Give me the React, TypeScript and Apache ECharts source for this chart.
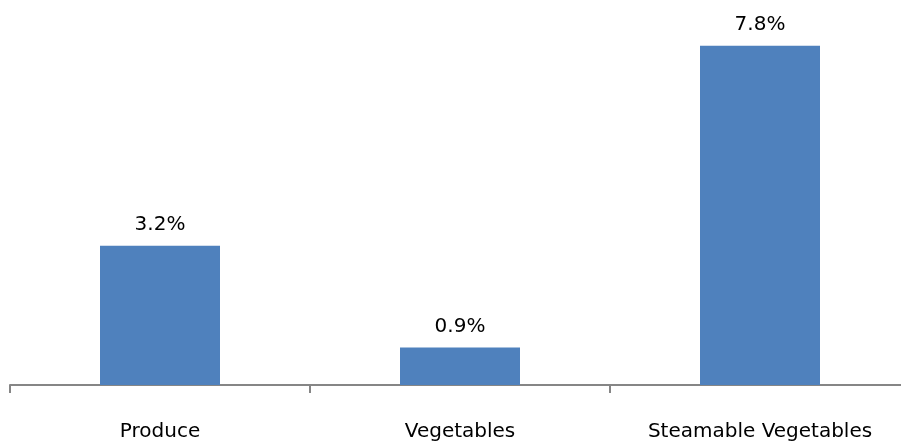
import React, { useEffect, useRef } from "react";
import * as echarts from "echarts";

const categories = ["Produce", "Vegetables", "Steamable Vegetables"];
const values = [3.2, 0.86, 7.8];

export default function App() {
  const ref = useRef<HTMLDivElement>(null);
  useEffect(() => {
    if (!ref.current) return;
    const chart = echarts.init(ref.current, null, { renderer: "svg" });
    chart.setOption({
      animation: false,
      grid: { left: 10, width: 900, top: 37, bottom: 60, containLabel: false },
      xAxis: {
        type: "category",
        data: categories,
        axisLine: { lineStyle: { color: "#868686", width: 2 } },
        axisTick: { show: true, length: 8, lineStyle: { color: "#868686", width: 2 } },
        axisLabel: { margin: 35, fontSize: 20, color: "#000", fontFamily: "DejaVu Sans" },
      },
      yAxis: { type: "value", min: 0, max: 8, show: false, splitLine: { show: false } },
      series: [
        {
          type: "bar",
          data: values,
          barWidth: 120,
          itemStyle: { color: "#4f81bd" },
          label: {
            show: true,
            position: "top",
            distance: 13,
            fontSize: 20,
            color: "#000",
            fontFamily: "DejaVu Sans",
            formatter: (p: any) => p.value.toFixed(1) + "%",
          },
        },
      ],
    });
    return () => chart.dispose();
  }, []);
  return (
    <div
      ref={ref}
      style={{ position: "fixed", left: 0, top: 0, width: 912, height: 445 }}
    />
  );
}
